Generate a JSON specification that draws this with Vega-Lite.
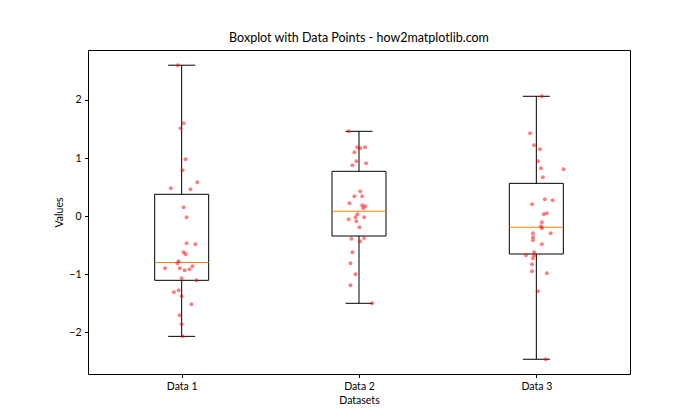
{
  "$schema": "https://vega.github.io/schema/vega-lite/v6.json",
  "width": 542,
  "height": 324,
  "autosize": {"type": "none"},
  "padding": {"left": 88, "top": 50, "right": 70, "bottom": 46},
  "background": "white",
  "title": {"text": "Boxplot with Data Points - how2matplotlib.com", "fontSize": 12.5, "font": "Lato", "fontWeight": "normal", "color": "#000", "anchor": "middle", "offset": 6, "frame": "group"},
  "config": {
    "view": {"stroke": "#000", "strokeWidth": 1},
    "axis": {"domain": false, "grid": false, "tickColor": "#000", "tickSize": 3.5, "labelColor": "#000", "labelFont": "Lato", "labelFontSize": 10.5, "titleFont": "Lato", "titleFontSize": 10.5, "titleFontWeight": "normal", "titleColor": "#000", "labelPadding": 3.5, "titlePadding": 4}
  },
  "datasets": {
    "stats": [
      {"pos": 1, "lower": -2.075, "q1": -1.109, "median": -0.80, "q3": 0.374, "upper": 2.60},
      {"pos": 2, "lower": -1.505, "q1": -0.345, "median": 0.08, "q3": 0.77, "upper": 1.46},
      {"pos": 3, "lower": -2.47, "q1": -0.655, "median": -0.195, "q3": 0.563, "upper": 2.064}
    ],
    "points": [
      {"x": 0.978, "v": 2.60}, {"x": 1.011, "v": 1.598}, {"x": 0.994, "v": 1.512}, {"x": 1.022, "v": 0.978},
      {"x": 1.005, "v": 0.788}, {"x": 1.088, "v": 0.581}, {"x": 0.939, "v": 0.478}, {"x": 1.050, "v": 0.460},
      {"x": 1.011, "v": 0.150}, {"x": 1.028, "v": -0.022}, {"x": 1.028, "v": -0.471}, {"x": 1.077, "v": -0.488},
      {"x": 1.011, "v": -0.626}, {"x": 1.022, "v": -0.661}, {"x": 0.983, "v": -0.782}, {"x": 0.976, "v": -0.816},
      {"x": 0.906, "v": -0.902}, {"x": 0.989, "v": -0.902}, {"x": 1.061, "v": -0.868}, {"x": 1.044, "v": -0.920},
      {"x": 1.017, "v": -0.937}, {"x": 1.000, "v": -1.075}, {"x": 1.083, "v": -1.109}, {"x": 0.983, "v": -1.282},
      {"x": 0.956, "v": -1.316}, {"x": 1.000, "v": -1.385}, {"x": 1.055, "v": -1.523}, {"x": 0.989, "v": -1.713},
      {"x": 1.000, "v": -1.868}, {"x": 1.005, "v": -2.075},
      {"x": 1.941, "v": 1.460}, {"x": 1.991, "v": 1.184}, {"x": 2.007, "v": 1.167}, {"x": 2.035, "v": 1.184},
      {"x": 1.974, "v": 1.098}, {"x": 1.985, "v": 0.943}, {"x": 1.963, "v": 0.874}, {"x": 2.040, "v": 0.909},
      {"x": 2.007, "v": 0.426}, {"x": 1.974, "v": 0.340}, {"x": 2.018, "v": 0.340}, {"x": 1.946, "v": 0.219},
      {"x": 2.018, "v": 0.184}, {"x": 2.035, "v": 0.167}, {"x": 2.024, "v": 0.133}, {"x": 1.991, "v": 0.029},
      {"x": 1.980, "v": -0.022}, {"x": 2.029, "v": -0.022}, {"x": 1.941, "v": -0.057}, {"x": 1.985, "v": -0.091},
      {"x": 2.002, "v": -0.195}, {"x": 1.957, "v": -0.391}, {"x": 2.029, "v": -0.380}, {"x": 2.007, "v": -0.437},
      {"x": 1.963, "v": -0.626}, {"x": 1.952, "v": -0.816}, {"x": 1.980, "v": -1.006}, {"x": 1.952, "v": -1.195},
      {"x": 2.074, "v": -1.505},
      {"x": 3.031, "v": 2.064}, {"x": 2.965, "v": 1.426}, {"x": 2.987, "v": 1.219}, {"x": 3.020, "v": 1.150},
      {"x": 3.009, "v": 0.943}, {"x": 3.026, "v": 0.822}, {"x": 3.153, "v": 0.805}, {"x": 3.037, "v": 0.667},
      {"x": 3.048, "v": 0.288}, {"x": 3.092, "v": 0.271}, {"x": 2.976, "v": 0.202}, {"x": 3.059, "v": 0.047},
      {"x": 3.042, "v": 0.029}, {"x": 3.031, "v": -0.109}, {"x": 3.026, "v": -0.178}, {"x": 3.031, "v": -0.212},
      {"x": 3.081, "v": -0.298}, {"x": 2.981, "v": -0.298}, {"x": 2.981, "v": -0.367}, {"x": 2.981, "v": -0.419},
      {"x": 3.031, "v": -0.488}, {"x": 2.987, "v": -0.626}, {"x": 2.942, "v": -0.678}, {"x": 2.987, "v": -0.678},
      {"x": 2.981, "v": -0.729}, {"x": 2.976, "v": -0.833}, {"x": 2.976, "v": -0.953}, {"x": 3.059, "v": -0.988},
      {"x": 3.009, "v": -1.298}, {"x": 3.053, "v": -2.471}
    ]
  },
  "layer": [
    {
      "data": {"name": "stats"},
      "mark": {"type": "rule", "color": "#000", "strokeWidth": 1},
      "encoding": {
        "x": {"field": "pos", "type": "quantitative", "scale": {"domain": [0.5, 3.5], "nice": false, "zero": false}, "axis": {"values": [1, 2, 3], "labelExpr": "'Data ' + datum.value", "title": "Datasets"}},
        "y": {"field": "lower", "type": "quantitative", "scale": {"domain": [-2.724, 2.862], "nice": false, "zero": false}, "axis": {"values": [-2, -1, 0, 1, 2], "format": "d", "title": "Values"}},
        "y2": {"field": "q1"}
      }
    },
    {
      "data": {"name": "stats"},
      "mark": {"type": "rule", "color": "#000", "strokeWidth": 1},
      "encoding": {
        "x": {"field": "pos", "type": "quantitative"},
        "y": {"field": "q3", "type": "quantitative"},
        "y2": {"field": "upper"}
      }
    },
    {
      "data": {"name": "stats"},
      "mark": {"type": "tick", "orient": "horizontal", "size": 27, "thickness": 1, "color": "#000", "opacity": 1},
      "encoding": {
        "x": {"field": "pos", "type": "quantitative"},
        "y": {"field": "lower", "type": "quantitative"}
      }
    },
    {
      "data": {"name": "stats"},
      "mark": {"type": "tick", "orient": "horizontal", "size": 27, "thickness": 1, "color": "#000", "opacity": 1},
      "encoding": {
        "x": {"field": "pos", "type": "quantitative"},
        "y": {"field": "upper", "type": "quantitative"}
      }
    },
    {
      "data": {"name": "stats"},
      "mark": {"type": "bar", "width": 54, "fill": "transparent", "stroke": "#000", "strokeWidth": 1},
      "encoding": {
        "x": {"field": "pos", "type": "quantitative"},
        "y": {"field": "q1", "type": "quantitative"},
        "y2": {"field": "q3"}
      }
    },
    {
      "data": {"name": "stats"},
      "mark": {"type": "tick", "orient": "horizontal", "size": 54, "thickness": 1, "color": "#ff7f0e", "opacity": 1},
      "encoding": {
        "x": {"field": "pos", "type": "quantitative"},
        "y": {"field": "median", "type": "quantitative"}
      }
    },
    {
      "data": {"name": "points"},
      "mark": {"type": "circle", "size": 16, "color": "red", "opacity": 0.5},
      "encoding": {
        "x": {"field": "x", "type": "quantitative"},
        "y": {"field": "v", "type": "quantitative"}
      }
    }
  ]
}
